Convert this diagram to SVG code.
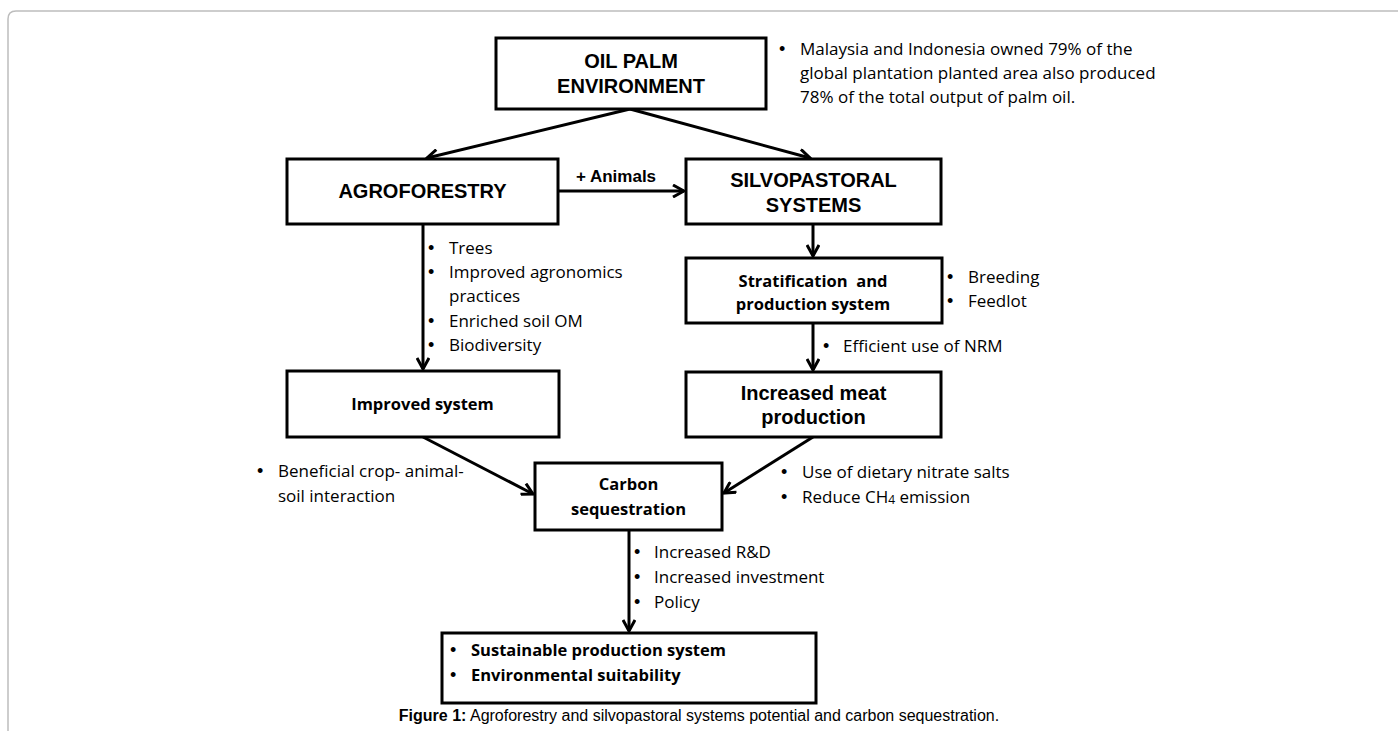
<svg xmlns="http://www.w3.org/2000/svg" width="1398" height="731" viewBox="0 0 1398 731">
<defs>
<style>
.box{fill:#fff;stroke:#000;stroke-width:3}
.t{font-family:"Liberation Sans",Arial,sans-serif;font-weight:bold;font-size:20px;fill:#000;text-anchor:middle}
.c{font-family:"Open Sans","Noto Sans",sans-serif;font-size:17px;fill:#000}
.cb{font-family:"Open Sans","Noto Sans",sans-serif;font-size:16.5px;font-weight:bold;fill:#000}
.bl{font-family:"Liberation Sans",Arial,sans-serif;font-size:18px;fill:#000}
.mid{text-anchor:middle}
.ln{stroke:#000;stroke-width:3;fill:none;marker-end:url(#ah)}
.cap{font-family:"Liberation Sans",Arial,sans-serif;font-size:16px;fill:#000;text-anchor:middle}
</style>
<marker id="ah" viewBox="0 0 14 14" refX="12" refY="7" markerWidth="14" markerHeight="14" markerUnits="userSpaceOnUse" orient="auto">
<path d="M1,1 L12,7 L1,13" stroke="#000" stroke-width="3" fill="none"/>
</marker>
</defs>
<rect width="1398" height="731" fill="#fff"/>
<path d="M8,731 V19 Q8,11 16,11 H1398" fill="none" stroke="#bdbdbd" stroke-width="1.5"/>

<g id="connectors">
<line class="ln" x1="630" y1="109" x2="427" y2="158"/>
<line class="ln" x1="630" y1="109" x2="810" y2="158"/>
<line class="ln" x1="559" y1="191" x2="684" y2="191"/>
<line class="ln" x1="423" y1="224" x2="423" y2="369"/>
<line class="ln" x1="813" y1="224" x2="813" y2="256"/>
<line class="ln" x1="813" y1="323" x2="813" y2="370"/>
<line class="ln" x1="423" y1="437" x2="533" y2="494"/>
<line class="ln" x1="813" y1="437" x2="724" y2="493"/>
<line class="ln" x1="629" y1="530" x2="629" y2="631"/>
<text x="616" y="182" class="t" style="font-size:17px">+ Animals</text>
</g>

<g id="oil-palm">
<rect class="box" x="496" y="38" width="270" height="71"/>
<text class="t" x="631" y="68">OIL PALM</text>
<text class="t" x="631" y="93">ENVIRONMENT</text>
</g>
<g id="oil-palm-note">
<text class="bl" x="779" y="55">•</text>
<text class="c" x="800" y="55">Malaysia and Indonesia owned 79% of the</text>
<text class="c" x="800" y="79">global plantation planted area also produced</text>
<text class="c" x="800" y="103">78% of the total output of palm oil.</text>
</g>

<g id="agroforestry">
<rect class="box" x="287" y="159" width="271" height="65"/>
<text class="t" x="422.5" y="198">AGROFORESTRY</text>
</g>
<g id="agro-notes">
<text class="bl" x="428" y="254">•</text><text class="c" x="449" y="254">Trees</text>
<text class="bl" x="428" y="278">•</text><text class="c" x="449" y="278">Improved agronomics</text>
<text class="c" x="449" y="302">practices</text>
<text class="bl" x="428" y="327">•</text><text class="c" x="449" y="327">Enriched soil OM</text>
<text class="bl" x="428" y="351">•</text><text class="c" x="449" y="351">Biodiversity</text>
</g>

<g id="silvopastoral">
<rect class="box" x="686" y="159" width="255" height="65"/>
<text class="t" x="813.5" y="187">SILVOPASTORAL</text>
<text class="t" x="813.5" y="212">SYSTEMS</text>
</g>

<g id="stratification">
<rect class="box" x="686" y="258" width="256" height="65"/>
<text class="cb mid" x="813" y="287" xml:space="preserve">Stratification  and</text>
<text class="cb mid" x="813" y="310">production system</text>
</g>
<g id="strat-notes">
<text class="bl" x="947" y="283">•</text><text class="c" x="968" y="283">Breeding</text>
<text class="bl" x="947" y="307">•</text><text class="c" x="968" y="307">Feedlot</text>
<text class="bl" x="823" y="352">•</text><text class="c" x="843" y="352">Efficient use of NRM</text>
</g>

<g id="improved-system">
<rect class="box" x="287" y="371" width="272" height="66"/>
<text class="cb mid" x="422.5" y="410">Improved system</text>
</g>

<g id="meat">
<rect class="box" x="686" y="372" width="255" height="65"/>
<text class="t" x="813.5" y="400">Increased meat</text>
<text class="t" x="813.5" y="424">production</text>
</g>

<g id="crop-note">
<text class="bl" x="257" y="477">•</text><text class="c" x="278" y="477">Beneficial crop- animal-</text>
<text class="c" x="278" y="502">soil interaction</text>
</g>
<g id="meat-note">
<text class="bl" x="781" y="478">•</text><text class="c" x="802" y="478">Use of dietary nitrate salts</text>
<text class="bl" x="781" y="503">•</text><text class="c" x="802" y="503">Reduce CH<tspan font-size="12" dy="1">4</tspan><tspan dy="-1"> emission</tspan></text>
</g>

<g id="carbon">
<rect class="box" x="535" y="463" width="187" height="67"/>
<text class="cb mid" x="628.5" y="490">Carbon</text>
<text class="cb mid" x="628.5" y="515">sequestration</text>
</g>
<g id="carbon-notes">
<text class="bl" x="634" y="558">•</text><text class="c" x="654" y="558">Increased R&amp;D</text>
<text class="bl" x="634" y="583">•</text><text class="c" x="654" y="583">Increased investment</text>
<text class="bl" x="634" y="608">•</text><text class="c" x="654" y="608">Policy</text>
</g>

<g id="sustainable">
<rect class="box" x="442" y="633" width="374" height="70"/>
<text class="bl" x="450" y="656">•</text><text class="cb" x="471" y="656">Sustainable production system</text>
<text class="bl" x="450" y="681">•</text><text class="cb" x="471" y="681">Environmental suitability</text>
</g>

<text class="cap" x="699" y="721"><tspan font-weight="bold">Figure 1:</tspan> Agroforestry and silvopastoral systems potential and carbon sequestration.</text>
</svg>
